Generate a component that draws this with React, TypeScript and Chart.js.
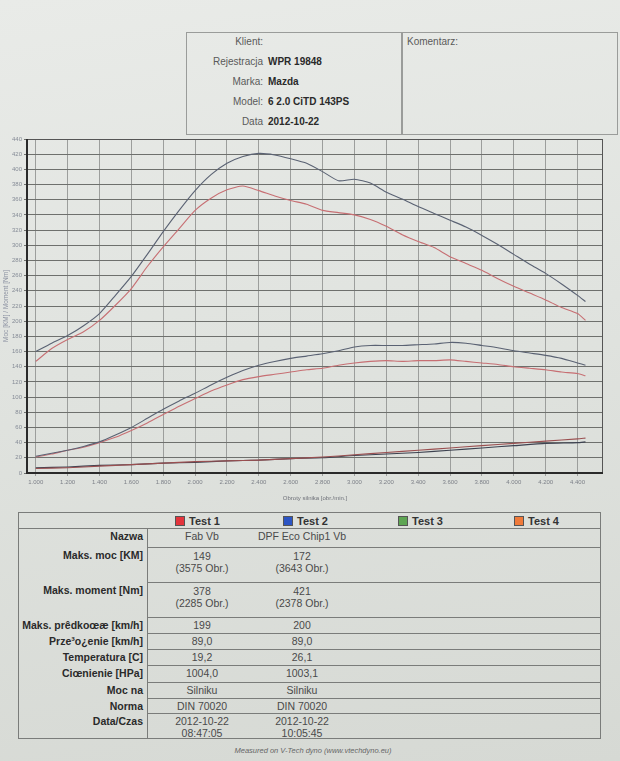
import React, { useEffect, useRef } from "react";
import { Chart, registerables } from "chart.js";

Chart.register(...registerables);

// ---- chart data ----
const rpm = [
  1000, 1100, 1200, 1300, 1400, 1500, 1600, 1700, 1800, 1900, 2000, 2100, 2200, 2300, 2400, 2500, 2600, 2700,
  2800, 2900, 3000, 3100, 3200, 3300, 3400, 3500, 3600, 3700, 3800, 3900, 4000, 4100, 4200, 4300, 4400, 4450,
];
const test2Torque = [
  160, 171, 181, 194, 210, 234, 259, 288, 318, 346, 372, 393, 408, 417, 421, 419, 414, 408,
  397, 385, 387, 382, 370, 361, 351, 342, 333, 324, 313, 301, 288, 275, 263, 249, 234, 226,
];
const test1Torque = [
  147, 164, 176, 186, 201, 221, 243, 272, 298, 322, 346, 362, 373, 378, 372, 365, 359, 354,
  346, 343, 340, 334, 325, 314, 305, 297, 285, 276, 267, 256, 246, 237, 228, 218, 210, 201,
];
const test2Power = [
  22, 26, 30, 35, 41, 50, 60, 72, 84, 95, 105, 116, 126, 135, 142, 147, 151, 154,
  157, 161, 166, 168, 168, 168, 169, 170, 172, 171, 168, 165, 161, 158, 155, 151, 145, 142,
];
const test1Power = [
  21, 25, 30, 34, 40, 47, 56, 66, 77, 88, 98, 108, 116, 123, 127, 130, 133, 136,
  138, 142, 145, 147, 148, 147, 148, 148, 149, 147, 145, 143, 140, 138, 136, 133, 131, 128,
];
const lossRpm = [1000, 1200, 1400, 1600, 1800, 2000, 2200, 2400, 2600, 2800, 3000, 3200, 3400, 3600, 3800, 4000, 4200, 4400, 4450];
const test1Loss = [6, 7, 9, 11, 13, 15, 16, 17, 19, 21, 24, 27, 30, 33, 36, 39, 42, 45, 46];
const test2Loss = [7, 8, 10, 11, 13, 14, 16, 17, 19, 20, 23, 25, 27, 30, 33, 36, 39, 40, 41];

const xTicks = [1000, 1200, 1400, 1600, 1800, 2000, 2200, 2400, 2600, 2800, 3000, 3200, 3400, 3600, 3800, 4000, 4200, 4400];
const yMax = 440;
const yStep = 20;

// ---- header / table texts ----
const headerLabels = ["Klient:", "Rejestracja", "Marka:", "Model:", "Data"];
const headerValues = ["", "WPR 19848", "Mazda", "6 2.0 CiTD 143PS", "2012-10-22"];

const testNames = ["Test 1", "Test 2", "Test 3", "Test 4"];
const testColors = ["#e3343c", "#2c55c4", "#5ea553", "#f07a3a"];
const rowLabels = [
  "Nazwa",
  "Maks. moc [KM]",
  "Maks. moment [Nm]",
  "Maks. prêdkoœæ [km/h]",
  "Prze³o¿enie [km/h]",
  "Temperatura [C]",
  "Ciœnienie [HPa]",
  "Moc na",
  "Norma",
  "Data/Czas",
];
const test1Info = [
  ["Fab Vb"], ["149", "(3575 Obr.)"], ["378", "(2285 Obr.)"], ["199"], ["89,0"], ["19,2"],
  ["1004,0"], ["Silniku"], ["DIN 70020"], ["2012-10-22", "08:47:05"],
];
const test2Info = [
  ["DPF Eco Chip1 Vb"], ["172", "(3643 Obr.)"], ["421", "(2378 Obr.)"], ["200"], ["89,0"], ["26,1"],
  ["1003,1"], ["Silniku"], ["DIN 70020"], ["2012-10-22", "10:05:45"],
];

const FONT = "'Liberation Sans', Arial, sans-serif";
const RED = "#c76f73";
const BLUE = "#5a6273";

const fmtRpm = (v: number) => Math.floor(v / 1000) + "." + String(v % 1000).padStart(3, "0");

export default function App() {
  const ref = useRef<HTMLCanvasElement>(null);

  useEffect(() => {
    document.body.style.margin = "0";
    const framePlugin = {
      id: "frame",
      afterDatasetsDraw(chart: any) {
        const { ctx, chartArea: a } = chart;
        ctx.save();
        ctx.strokeStyle = "#555";
        ctx.lineWidth = 1;
        ctx.beginPath();
        ctx.moveTo(a.left, a.top + 0.5);
        ctx.lineTo(a.right - 0.5, a.top + 0.5);
        ctx.lineTo(a.right - 0.5, a.bottom);
        ctx.stroke();
        ctx.strokeStyle = "#2a2a2a";
        ctx.lineWidth = 2;
        ctx.beginPath();
        ctx.moveTo(a.left, a.top);
        ctx.lineTo(a.left, a.bottom);
        ctx.lineTo(a.right, a.bottom);
        ctx.stroke();
        ctx.restore();
      },
    };
    const mk = (xs: number[], ys: number[]) => xs.map((x, i) => ({ x, y: ys[i] }));
    const line = (label: string, data: any, color: string) => ({
      label,
      data,
      borderColor: color,
      backgroundColor: color,
      borderWidth: 1.1,
      pointRadius: 0,
      tension: 0.2,
      fill: false,
    });
    const chart = new Chart(ref.current!, {
      type: "line",
      data: {
        datasets: [
          line("Test 2 moment", mk(rpm, test2Torque), BLUE),
          line("Test 1 moment", mk(rpm, test1Torque), RED),
          line("Test 2 moc", mk(rpm, test2Power), BLUE),
          line("Test 1 moc", mk(rpm, test1Power), RED),
          line("Test 1 straty", mk(lossRpm, test1Loss), "#9a4f50"),
          line("Test 2 straty", mk(lossRpm, test2Loss), "#3d4250"),
        ],
      },
      options: {
        animation: false,
        responsive: false,
        maintainAspectRatio: false,
        layout: { padding: { top: 9, right: 9, left: 2, bottom: 0 } },
        plugins: { legend: { display: false }, tooltip: { enabled: false } },
        scales: {
          x: {
            type: "linear",
            min: 945,
            max: 4560,
            afterBuildTicks: (s: any) => {
              s.ticks = xTicks.map((v) => ({ value: v }));
            },
            afterFit: (s: any) => {
              s.height = 29;
            },
            ticks: {
              autoSkip: false,
              maxRotation: 0,
              padding: 3,
              color: "#7d8088",
              font: { size: 6, family: FONT },
              callback: (v: any) => fmtRpm(Number(v)),
            },
            grid: { color: "#9c9e9c", lineWidth: 1, tickLength: 3 },
            border: { display: false },
            title: {
              display: true,
              text: "Obroty silnika [obr./min.]",
              color: "#6d7078",
              font: { size: 6, family: FONT },
              padding: { top: 1, bottom: 0 },
            },
          },
          y: {
            min: 0,
            max: yMax,
            afterFit: (s: any) => {
              s.width = 25;
            },
            ticks: {
              stepSize: yStep,
              padding: 2,
              color: "#858b96",
              font: { size: 6, family: FONT },
            },
            grid: { color: "#6e706d", lineWidth: 1, tickLength: 3 },
            border: { display: false },
            title: {
              display: true,
              text: "Moc [KM] / Moment [Nm]",
              color: "#8a90a0",
              font: { size: 6.5, family: FONT },
              padding: 0,
            },
          },
        },
      },
      plugins: [framePlugin],
    } as any);
    return () => chart.destroy();
  }, []);

  const rowTops = [528, 547, 582, 617, 633, 649, 665, 682, 698, 713, 738];
  const abs = (s: React.CSSProperties): React.CSSProperties => ({ position: "absolute", ...s });
  const hLine = (y: number, x1: number, x2: number, key: string) => (
    <div key={key} style={abs({ left: x1, top: y, width: x2 - x1, height: 1, background: "#7a7c7a" })} />
  );
  const vLine = (x: number, y1: number, y2: number, key: string) => (
    <div key={key} style={abs({ left: x, top: y1, width: 1, height: y2 - y1, background: "#7a7c7a" })} />
  );

  return (
    <div
      style={abs({
        left: 0,
        top: 0,
        width: 620,
        height: 761,
        overflow: "hidden",
        background: "linear-gradient(172deg, #e9ebe8 0%, #e0e3df 45%, #d6d9d4 100%)",
        fontFamily: FONT,
        color: "#222",
      })}
    >
      {/* header boxes */}
      <div style={abs({ left: 186, top: 32, width: 214, height: 101, border: "1px solid #9a9c9a" })} />
      <div style={abs({ left: 402, top: 32, width: 214, height: 101, border: "1px solid #9a9c9a" })} />
      {headerLabels.map((l, i) => (
        <div key={"hl" + i} style={abs({ left: 186, width: 77, top: 35 + i * 20, fontSize: 10, lineHeight: "13px", textAlign: "right", color: "#5a5a5a" })}>
          {l}
        </div>
      ))}
      {headerValues.map((v, i) => (
        <div key={"hv" + i} style={abs({ left: 268, top: 35 + i * 20, fontSize: 10, lineHeight: "13px", fontWeight: "bold", color: "#2a2a2a", whiteSpace: "nowrap" })}>
          {v}
        </div>
      ))}
      <div style={abs({ left: 407, top: 35, fontSize: 10, lineHeight: "13px", color: "#5a5a5a" })}>Komentarz:</div>

      {/* chart */}
      <canvas ref={ref} width={612} height={372} style={abs({ left: 0, top: 130, width: 612, height: 372 })} />

      {/* table */}
      {hLine(512, 18, 600, "top")}
      {hLine(528, 18, 600, "hdr")}
      {rowTops.slice(1, -1).map((y, i) => hLine(y, 147, 600, "r" + i))}
      {hLine(738, 18, 600, "bot")}
      {vLine(18, 512, 739, "vl")}
      {vLine(147, 528, 739, "vd")}
      {vLine(600, 512, 739, "vr")}
      {testNames.map((t, i) => {
        const lefts = [175, 283, 398, 514];
        return (
          <div key={"t" + i} style={abs({ left: lefts[i], top: 514, height: 14, display: "flex", alignItems: "center", fontSize: 11, fontWeight: "bold", color: "#333", whiteSpace: "nowrap" })}>
            <span style={{ display: "inline-block", width: 8, height: 8, background: testColors[i], border: "1px solid #555", marginRight: 4 }} />
            {t}
          </div>
        );
      })}
      {rowLabels.map((l, i) => (
        <div key={"rl" + i} style={abs({ left: 10, width: 133, top: rowTops[i] + 2, fontSize: 10.5, lineHeight: "12px", fontWeight: "bold", textAlign: "right", color: "#2a2a2a", whiteSpace: "nowrap" })}>
          {l}
        </div>
      ))}
      {[test1Info, test2Info].map((info, c) =>
        info.map((lines, i) => (
          <div key={"c" + c + "_" + i} style={abs({ left: c === 0 ? 147 : 247, width: 110, top: rowTops[i] + (lines.length > 1 && i < 9 ? 3 : 2), fontSize: 10.5, lineHeight: "12px", textAlign: "center", color: "#4a4a4a", whiteSpace: "nowrap" })}>
            {lines.map((t, k) => (
              <div key={k}>{t}</div>
            ))}
          </div>
        ))
      )}
      <div style={abs({ left: 150, width: 326, top: 746, fontSize: 7.5, fontStyle: "italic", textAlign: "center", color: "#666" })}>
        Measured on V-Tech dyno (www.vtechdyno.eu)
      </div>
    </div>
  );
}
